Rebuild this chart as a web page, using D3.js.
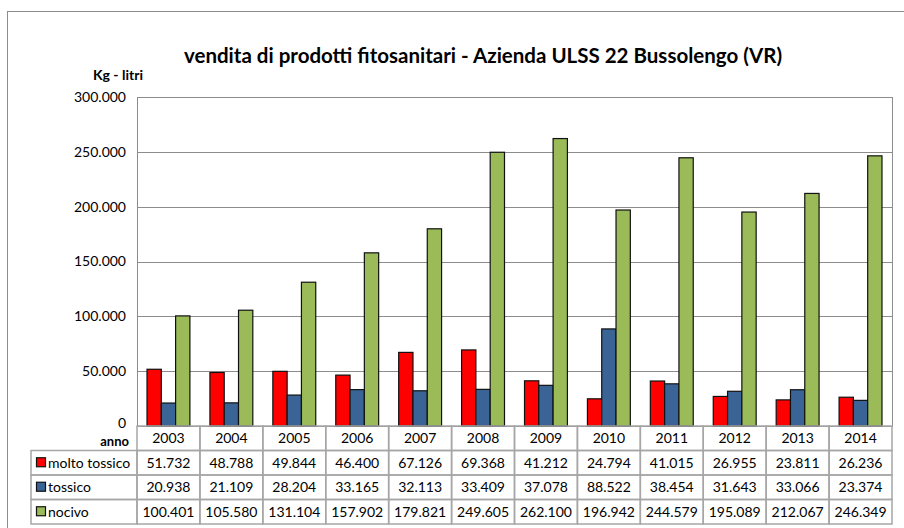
<!DOCTYPE html>
<html lang="it">
<head>
<meta charset="UTF-8">
<title>vendita di prodotti fitosanitari</title>
<style>
  body { margin: 0; background: #fff; }
  text { font-family: Lato, "Open Sans", sans-serif; fill: #000; }
</style>
</head>
<body>
<div class="canvas"></div>
<script src="https://d3js.org/d3.v7.min.js"></script>
<script>
const years = ['2003','2004','2005','2006','2007','2008','2009','2010','2011','2012','2013','2014'];
const seriesNames = ['molto tossico', 'tossico', 'nocivo'];
const moltoTossico = [51732, 48788, 49844, 46400, 67126, 69368, 41212, 24794, 41015, 26955, 23811, 26236];
const tossico = [20938, 21109, 28204, 33165, 32113, 33409, 37078, 88522, 38454, 31643, 33066, 23374];
const nocivo = [100401, 105580, 131104, 157902, 179821, 249605, 262100, 196942, 244579, 195089, 212067, 246349];
const yTicks = [0, 50000, 100000, 150000, 200000, 250000, 300000];
const colors = ['#ff0000', '#3a6496', '#9bbb59'];

const width = 904, height = 528;
const plot = {left: 137, right: 892, top: 97, bottom: 426};
const rowH = 24.5;

const it = d3.formatLocale({decimal: ',', thousands: '.', grouping: [3], currency: ['€', '']});
const fmt = it.format(',');

const svg = d3.select('.canvas').append('svg')
  .attr('width', width).attr('height', height);

svg.append('rect')
  .attr('x', 7.5).attr('y', 11.5).attr('width', 910).attr('height', 530)
  .attr('fill', 'none').attr('stroke', '#8c8c8c');

svg.append('text')
  .attr('x', 483).attr('y', 63).attr('text-anchor', 'middle')
  .style('font-size', '20.5px').style('font-weight', 'bold')
  .text('vendita di prodotti fitosanitari - Azienda ULSS 22 Bussolengo (VR)');

svg.append('text')
  .attr('x', 118).attr('y', 80).attr('text-anchor', 'middle')
  .style('font-size', '14px').style('font-weight', 'bold')
  .text('Kg - litri');

const x = d3.scaleBand().domain(years).range([plot.left, plot.right]);
const x1 = d3.scaleBand().domain(seriesNames)
  .range([0, x.bandwidth()]).paddingOuter(0.7).paddingInner(0);
const y = d3.scaleLinear().domain([0, 300000]).range([plot.bottom, plot.top]);

// grid
svg.append('g').selectAll('line').data(yTicks).join('line')
  .attr('x1', plot.left).attr('x2', plot.right)
  .attr('y1', d => Math.round(y(d)) + 0.5).attr('y2', d => Math.round(y(d)) + 0.5)
  .attr('stroke', '#8c8c8c');

svg.append('rect')
  .attr('x', plot.left + 0.5).attr('y', Math.round(y(300000)) + 0.5)
  .attr('width', plot.right - plot.left).attr('height', Math.round(y(0)) - Math.round(y(300000)))
  .attr('fill', 'none').attr('stroke', '#8c8c8c');

// y axis
const yAxis = d3.axisLeft(y).tickValues(yTicks).tickSize(0).tickPadding(11)
  .tickFormat(d => fmt(d));
const gY = svg.append('g').attr('transform', `translate(${plot.left},0)`).call(yAxis);
gY.select('.domain').remove();
gY.selectAll('text').style('font-size', '14px').style('font-family', 'Lato, sans-serif');
gY.selectAll('.tick').filter(d => d === 0).select('text').attr('dy', '0.1em');

// bars
const series = [moltoTossico, tossico, nocivo];
series.forEach((vals, si) => {
  svg.append('g').selectAll('rect').data(vals).join('rect')
    .attr('x', (d, i) => x(years[i]) + x1(seriesNames[si]))
    .attr('y', d => y(d))
    .attr('width', x1.bandwidth())
    .attr('height', d => y(0) - y(d))
    .attr('fill', colors[si])
    .attr('stroke', '#111').attr('stroke-width', 1.2);
});

// data table
const tbl = svg.append('g');
const tableLeft = 31;
const lineCol = '#a6a6a6';
const rows = [years, ...series.map(s => s.map(v => fmt(v)))];
rows.forEach((r, ri) => {
  const top = plot.bottom + ri * rowH;
  r.forEach((v, ci) => {
    tbl.append('rect')
      .attr('x', x(years[ci])).attr('y', top)
      .attr('width', x.bandwidth()).attr('height', rowH)
      .attr('fill', 'none').attr('stroke', lineCol).attr('stroke-width', 1.5);
    tbl.append('text')
      .attr('x', x(years[ci]) + x.bandwidth() / 2).attr('y', top + rowH / 2)
      .attr('dy', '0.36em').attr('text-anchor', 'middle')
      .style('font-size', '14px').text(v);
  });
  if (ri > 0) {
    tbl.append('rect')
      .attr('x', tableLeft).attr('y', top)
      .attr('width', plot.left - tableLeft).attr('height', rowH)
      .attr('fill', 'none').attr('stroke', lineCol).attr('stroke-width', 1.5);
    tbl.append('rect')
      .attr('x', tableLeft + 5.5).attr('y', top + rowH / 2 - 5)
      .attr('width', 9).attr('height', 9)
      .attr('fill', colors[ri - 1]).attr('stroke', '#111').attr('stroke-width', 1.2);
    tbl.append('text')
      .attr('x', tableLeft + 17).attr('y', top + rowH / 2)
      .attr('dy', '0.36em').style('font-size', '14px')
      .text(seriesNames[ri - 1]);
  }
});

svg.append('text')
  .attr('x', 129).attr('y', 446).attr('text-anchor', 'end')
  .style('font-size', '13px').style('font-weight', 'bold')
  .text('anno');
</script>
</body>
</html>
